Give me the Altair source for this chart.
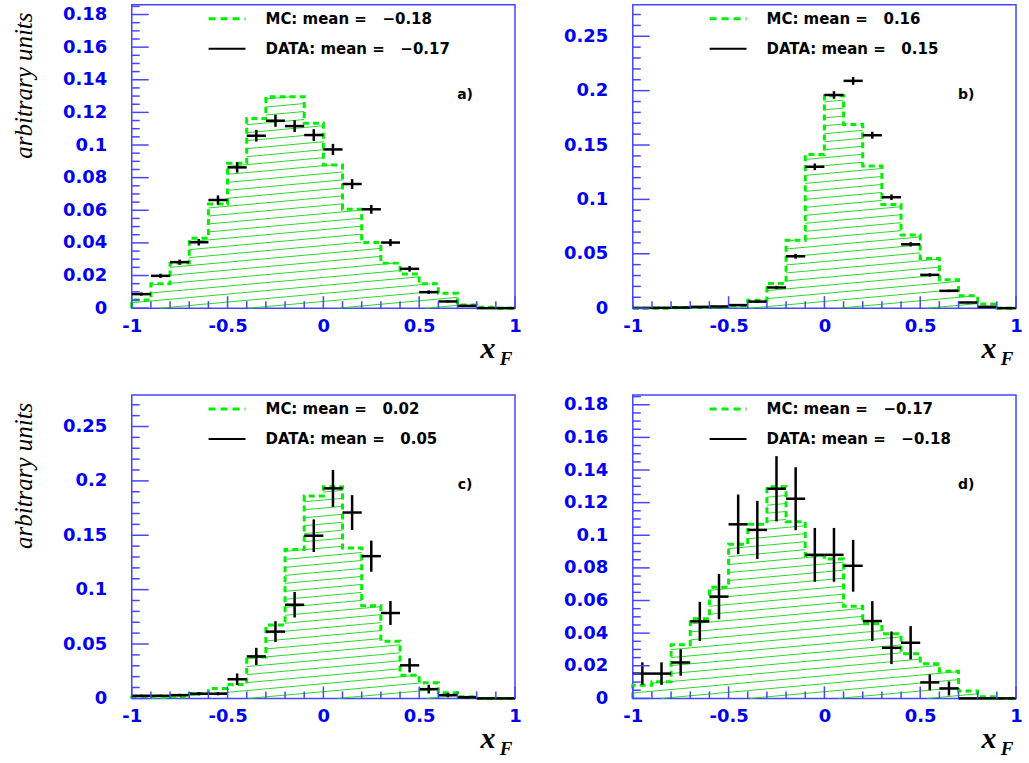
import altair as alt
import numpy as np
import pandas as pd

# ---------------- data ----------------
bin_edges = [round(-1 + 0.1 * k, 1) for k in range(21)]
x_major = [-1, -0.5, 0, 0.5, 1]
x_minor = [round(-1 + 0.1 * k, 1) for k in range(21) if k % 5 != 0]

y_major_a = [0, 0.02, 0.04, 0.06, 0.08, 0.1, 0.12, 0.14, 0.16, 0.18]
y_minor_a = [round(0.005 * k, 3) for k in range(38) if k % 4 != 0]
y_major_b = [0, 0.05, 0.1, 0.15, 0.2, 0.25]
y_minor_b = [round(0.01 * k, 2) for k in range(28) if k % 5 != 0]

mc_a = [0.005, 0.0149, 0.0276, 0.0429, 0.0639, 0.0888, 0.1163, 0.1296, 0.1296, 0.1133,
        0.0878, 0.0606, 0.0402, 0.0276, 0.0210, 0.0149, 0.0092, 0.0020, 0.0005, 0.0]
data_a = [0.0086, 0.0198, 0.0282, 0.0404, 0.0663, 0.0863, 0.1057, 0.1149, 0.1116, 0.1061,
          0.0973, 0.0761, 0.0606, 0.0402, 0.0241, 0.0098, 0.0041, 0.0014, 0.0, 0.0]
err_a = [0.0010, 0.0013, 0.0016, 0.0020, 0.0028, 0.0032, 0.0036, 0.0037, 0.0036, 0.0036,
         0.0034, 0.0030, 0.0027, 0.0022, 0.0017, 0.0011, 0.0007, 0.0004, 0.0, 0.0]

mc_b = [0.0, 0.0, 0.0003, 0.0005, 0.0010, 0.0020, 0.0073, 0.0226, 0.0624, 0.1413,
        0.1954, 0.1688, 0.1306, 0.0954, 0.0673, 0.0456, 0.0260, 0.0113, 0.0037, 0.0]
data_b = [0.0002, 0.0003, 0.0006, 0.0012, 0.0015, 0.0028, 0.0060, 0.0190, 0.0477, 0.1300,
          0.1960, 0.2090, 0.1590, 0.1020, 0.0587, 0.0306, 0.0159, 0.0052, 0.0012, 0.0]
err_b = [0.0002, 0.0002, 0.0003, 0.0004, 0.0005, 0.0007, 0.0010, 0.0015, 0.0022, 0.0030,
         0.0035, 0.0036, 0.0032, 0.0026, 0.0020, 0.0015, 0.0011, 0.0006, 0.0003, 0.0]

mc_c = [0.0010, 0.0010, 0.0015, 0.0046, 0.0090, 0.0128, 0.0380, 0.0675, 0.1369, 0.1860,
        0.1946, 0.1384, 0.0852, 0.0526, 0.0213, 0.0143, 0.0052, 0.0015, 0.0, 0.0]
data_c = [0.0024, 0.0024, 0.0030, 0.0043, 0.0043, 0.0176, 0.0386, 0.0614, 0.0861, 0.1496,
          0.1931, 0.1709, 0.1308, 0.0785, 0.0304, 0.0085, 0.0030, 0.0010, 0.0, 0.0]
err_c = [0.0010, 0.0010, 0.0012, 0.0015, 0.0015, 0.0053, 0.0079, 0.0096, 0.0117, 0.0150,
         0.0170, 0.0160, 0.0143, 0.0110, 0.0065, 0.0040, 0.0020, 0.0010, 0.0, 0.0]

mc_d = [0.0080, 0.0102, 0.0329, 0.0488, 0.0681, 0.0945, 0.1067, 0.1297, 0.1083, 0.0874,
        0.0854, 0.0565, 0.0457, 0.0396, 0.0274, 0.0213, 0.0167, 0.0045, 0.0010, 0.0]
data_d = [0.0152, 0.0152, 0.0220, 0.0472, 0.0624, 0.1067, 0.1033, 0.1285, 0.1224, 0.0880,
          0.0880, 0.0813, 0.0474, 0.0310, 0.0341, 0.0098, 0.0061, 0.0, 0.0, 0.0]
err_d = [0.0069, 0.0069, 0.0081, 0.0120, 0.0139, 0.0183, 0.0178, 0.0200, 0.0193, 0.0165,
         0.0165, 0.0159, 0.0122, 0.0100, 0.0102, 0.0049, 0.0043, 0.0, 0.0, 0.0]

mc_means = ["\u22120.18", "0.16", "0.02", "\u22120.17"]
data_means = ["\u22120.17", "0.15", "0.05", "\u22120.18"]
letters = ["a)", "b)", "c)", "d)"]
y_title = "arbitrary units"

# ---------------- style ----------------
W, H = 384, 304
BLUE = "#4646ff"
LABEL_BLUE = "#0000ee"
GREEN = "#00f000"
HATCH = "#2ad82a"
SANS = "DejaVu Sans"
SERIF = "'Liberation Serif', 'Times New Roman', Times, serif"
NB = "\u00a0"


def hatch_segments(mc, ymax, spacing=8.0, slope=0.09):
    ky = H / ymax
    kx = W / 2.0
    hmax = max(mc) * ky
    cs = np.arange(-slope * W - spacing, hmax + spacing, spacing)
    rows = []
    for k, v in enumerate(mc):
        X0, X1, Hb = k * 0.1 * kx, (k + 1) * 0.1 * kx, v * ky
        for c in cs:
            xa = max(X0, (0 - c) / slope)
            xb = min(X1, (Hb - c) / slope)
            if xb - xa > 0.3:
                rows.append({"x": xa / kx - 1, "x2": xb / kx - 1,
                             "y": (c + slope * xa) / ky, "y2": (c + slope * xb) / ky})
    return pd.DataFrame(rows)


def panel(mc, dat, err, ymax, ymaj, ymin, mc_mean, da_mean, letter, left):
    xs = alt.Scale(domain=[-1, 1], nice=False, zero=False)
    ys = alt.Scale(domain=[0, ymax], nice=False, zero=False)

    lo = bin_edges[:-1]
    hi = bin_edges[1:]
    ctr = [round((a + b) / 2, 2) for a, b in zip(lo, hi)]

    sx = [-1.0] + bin_edges + [1.0]
    sy = [0.0] + mc + [mc[-1], 0.0]
    step_df = pd.DataFrame({"x": sx, "y": sy, "i": list(range(len(sx)))})

    yaxis_kw = dict(values=ymaj, format=".2~f", labelFont=SANS, labelFontWeight="bold",
                    labelFontSize=18, labelColor=LABEL_BLUE, ticks=False, domain=False,
                    grid=False, labelPadding=25, title=None, labelOverlap=False,
                    labelFlush=False, labelBaseline="middle")
    if left:
        yaxis_kw.update(minExtent=126, maxExtent=126)
    yaxis = alt.Axis(**yaxis_kw)
    xaxis = alt.Axis(values=x_major,
                     labelExpr="datum.value < 0 ? '-' + format(-datum.value, '~g') : format(datum.value, '~g')",
                     labelFont=SANS, labelFontWeight="bold", labelFontSize=18,
                     labelColor=LABEL_BLUE, ticks=False, domain=False, grid=False,
                     labelPadding=9, title=None, labelOverlap=False, labelFlush=False)

    def X(f):
        return alt.X(f, scale=xs, axis=xaxis)

    def Y(f):
        return alt.Y(f, scale=ys, axis=yaxis)

    hat = alt.Chart(hatch_segments(mc, ymax)).mark_rule(color=HATCH, strokeWidth=1).encode(
        x=X("x:Q"), x2="x2:Q", y=Y("y:Q"), y2="y2:Q")

    outline = alt.Chart(step_df).mark_line(
        color=GREEN, strokeWidth=3, strokeDash=[6, 4], interpolate="step-after").encode(
        x=X("x:Q"), y=Y("y:Q"), order="i:Q")

    ddf = pd.DataFrame({"lo": lo, "hi": hi, "c": ctr, "v": dat,
                        "elo": [v - e for v, e in zip(dat, err)],
                        "ehi": [v + e for v, e in zip(dat, err)]})
    hbar = alt.Chart(ddf).mark_rule(color="black", strokeWidth=2.5).encode(
        x=X("lo:Q"), x2="hi:Q", y=Y("v:Q"))
    vbar = alt.Chart(ddf).mark_rule(color="black", strokeWidth=2.5).encode(
        x=X("c:Q"), y=Y("elo:Q"), y2="ehi:Q")

    ytm = alt.Chart(pd.DataFrame({"v": ymaj})).mark_rule(color=BLUE, strokeWidth=1.5).encode(
        y=Y("v:Q"), x=alt.value(0), x2=alt.value(17))
    ytn = alt.Chart(pd.DataFrame({"v": ymin})).mark_rule(color=BLUE, strokeWidth=1.5).encode(
        y=Y("v:Q"), x=alt.value(0), x2=alt.value(8))
    xtm = alt.Chart(pd.DataFrame({"v": x_major})).mark_rule(color=BLUE, strokeWidth=1.5).encode(
        x=X("v:Q"), y=alt.value(H), y2=alt.value(H - 12))
    xtn = alt.Chart(pd.DataFrame({"v": x_minor})).mark_rule(color=BLUE, strokeWidth=1.5).encode(
        x=X("v:Q"), y=alt.value(H), y2=alt.value(H - 7))

    one = pd.DataFrame({"a": [0]})
    leg_mc = alt.Chart(one).mark_rule(color=GREEN, strokeWidth=3, strokeDash=[7, 5]).encode(
        x=alt.value(77), x2=alt.value(114), y=alt.value(14))
    leg_da = alt.Chart(one).mark_rule(color="black", strokeWidth=2).encode(
        x=alt.value(77), x2=alt.value(114), y=alt.value(44))
    txt_kw = dict(font=SANS, fontWeight="bold", fontSize=15, align="left",
                  baseline="middle", color="black")
    t_mc = alt.Chart(one).mark_text(**txt_kw).encode(
        x=alt.value(134), y=alt.value(14),
        text=alt.value("MC: mean" + NB + "=" + NB * 3 + mc_mean))
    t_da = alt.Chart(one).mark_text(**txt_kw).encode(
        x=alt.value(134), y=alt.value(44),
        text=alt.value("DATA: mean" + NB + "=" + NB * 3 + da_mean))
    t_let = alt.Chart(one).mark_text(font=SANS, fontWeight="bold", fontSize=14,
                                     align="center", baseline="middle", color="black").encode(
        x=alt.value(334), y=alt.value(90), text=alt.value(letter))
    t_x = alt.Chart(one).mark_text(font=SERIF, fontWeight="bold", fontStyle="italic",
                                   fontSize=30, align="center", baseline="alphabetic",
                                   color="black").encode(
        x=alt.value(W - 27), y=alt.value(H + 50), text=alt.value("x"))
    t_f = alt.Chart(one).mark_text(font=SERIF, fontWeight="bold", fontStyle="italic",
                                   fontSize=19, align="center", baseline="alphabetic",
                                   color="black").encode(
        x=alt.value(W - 9), y=alt.value(H + 57), text=alt.value("F"))

    layers = [hat, outline, hbar, vbar, ytm, ytn, xtm, xtn, leg_mc, leg_da,
              t_mc, t_da, t_let, t_x, t_f]
    if left:
        t_y = alt.Chart(one).mark_text(font=SERIF, fontStyle="italic", fontSize=25,
                                       align="center", baseline="alphabetic", angle=270,
                                       color="black").encode(
            x=alt.value(-100), y=alt.value(81), text=alt.value(y_title))
        layers.append(t_y)
    return alt.layer(*layers).properties(width=W, height=H)


pa = panel(mc_a, data_a, err_a, 0.186, y_major_a, y_minor_a, mc_means[0], data_means[0], letters[0], True)
pb = panel(mc_b, data_b, err_b, 0.279, y_major_b, y_minor_b, mc_means[1], data_means[1], letters[1], False)
pc = panel(mc_c, data_c, err_c, 0.279, y_major_b, y_minor_b, mc_means[2], data_means[2], letters[2], True)
pd_ = panel(mc_d, data_d, err_d, 0.186, y_major_a, y_minor_a, mc_means[3], data_means[3], letters[3], False)

chart = alt.concat(pa, pb, pc, pd_, columns=2, spacing={"row": 87, "column": 118},
                   bounds="flush").properties(
    padding={"left": 5, "top": 3, "right": 5, "bottom": 5},
    background="white",
).configure_view(stroke=BLUE, strokeWidth=1.5)

chart.save("out.html", embed_options={"renderer": "svg", "actions": False})
